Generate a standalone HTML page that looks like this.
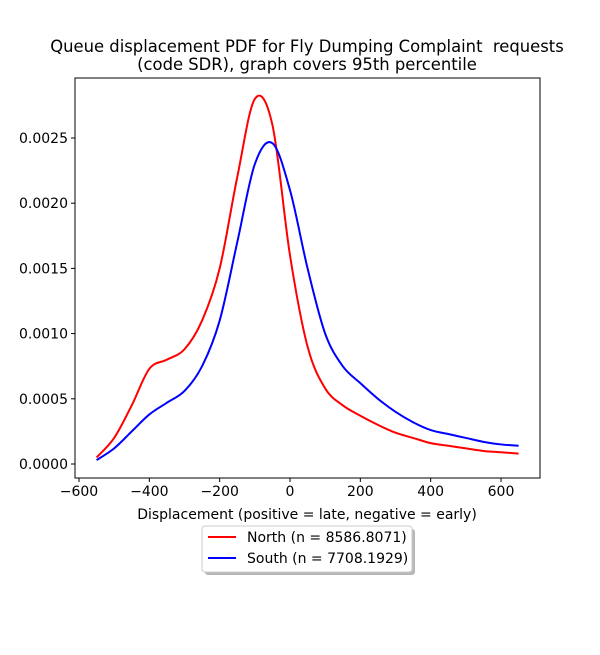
<!DOCTYPE html>
<html><head><meta charset="utf-8"><style>body{margin:0;background:#fff}svg{font-family:"DejaVu Sans","Liberation Sans",sans-serif}</style></head>
<body>
<svg id="chart" width="600" height="650" xmlns="http://www.w3.org/2000/svg">
<rect width="600" height="650" fill="#fff"/>
<text x="307" y="52" font-size="16.4" text-anchor="middle" style="white-space:pre">Queue displacement PDF for Fly Dumping Complaint  requests</text>
<text x="307" y="70" font-size="16.4" text-anchor="middle">(code SDR), graph covers 95th percentile</text>
<g id="plot"></g>
<text x="307" y="519" font-size="14" text-anchor="middle">Displacement (positive = late, negative = early)</text>
<g>
<rect x="205" y="529" width="210" height="46" rx="3" fill="#999" opacity="0.7"/>
<rect x="202" y="526" width="210" height="46" rx="3" fill="#fff" stroke="#ccc"/>
<line x1="208" y1="537" x2="236" y2="537" stroke="red" stroke-width="2"/>
<text x="247" y="542" font-size="14">North (n = 8586.8071)</text>
<line x1="208" y1="558" x2="236" y2="558" stroke="blue" stroke-width="2"/>
<text x="247" y="563" font-size="14">South (n = 7708.1929)</text>
</g>
</svg>
<script>
const xs = [-550,-500,-450,-400,-350,-300,-250,-200,-150,-100,-50,0,50,100,150,200,250,300,350,400,450,500,550,600,650];
const north = [0.00005,0.0002,0.00045,0.00073,0.0008,0.00088,0.0011,0.0015,0.0022,0.0028,0.0026,0.0016,0.0009,0.00058,0.00045,0.00037,0.0003,0.00024,0.0002,0.00016,0.00014,0.00012,0.0001,0.00009,0.00008];
const south = [0.00003,0.00012,0.00025,0.00038,0.00047,0.00056,0.00075,0.0011,0.0017,0.0023,0.00246,0.0021,0.0015,0.001,0.00075,0.00062,0.0005,0.0004,0.00032,0.00026,0.00023,0.0002,0.00017,0.00015,0.00014];
const xTicks = [-600,-400,-200,0,200,400,600];
const yTicks = [0,0.0005,0.001,0.0015,0.002,0.0025];
const yLabels = ["0.0000","0.0005","0.0010","0.0015","0.0020","0.0025"];
const L=75,R=540,T=78,B=478;
const X=v=>290+v*(211/600);
const Y=v=>464-v*130400;
const ns="http://www.w3.org/2000/svg";
const g=document.getElementById('plot');
function mk(t,a){const e=document.createElementNS(ns,t);for(const k in a)e.setAttribute(k,a[k]);g.appendChild(e);return e;}
function path(xv,yv){const p=xv.map((x,i)=>[X(x),Y(yv[i])]);let d=`M${p[0][0]},${p[0][1]}`;
for(let i=0;i<p.length-1;i++){const p0=p[Math.max(0,i-1)],p1=p[i],p2=p[i+1],p3=p[Math.min(p.length-1,i+2)];
d+=` C${p1[0]+(p2[0]-p0[0])/6},${p1[1]+(p2[1]-p0[1])/6} ${p2[0]-(p3[0]-p1[0])/6},${p2[1]-(p3[1]-p1[1])/6} ${p2[0]},${p2[1]}`;}return d;}
let e=mk('path',{d:path(xs,north),fill:'none',stroke:'red','stroke-width':2});


e=mk('path',{d:path(xs,south),fill:'none',stroke:'blue','stroke-width':2});


e=mk('rect',{x:L,y:T,width:R-L,height:B-T,fill:'none',stroke:'#000','stroke-width':1});


xTicks.forEach(v=>{const x=X(v);mk('line',{x1:x,y1:B,x2:x,y2:B+4,stroke:'#000'});
const t=mk('text',{x:x,y:B+18,'font-size':14,'text-anchor':'middle'});t.textContent=String(v).replace('-','\u2212');

});
yTicks.forEach((v,i)=>{const y=Y(v);mk('line',{x1:L-4,y1:y,x2:L,y2:y,stroke:'#000'});
const t=mk('text',{x:L-7,y:y+5,'font-size':14,'text-anchor':'end'});t.textContent=yLabels[i];

});
</script>
</body></html>
